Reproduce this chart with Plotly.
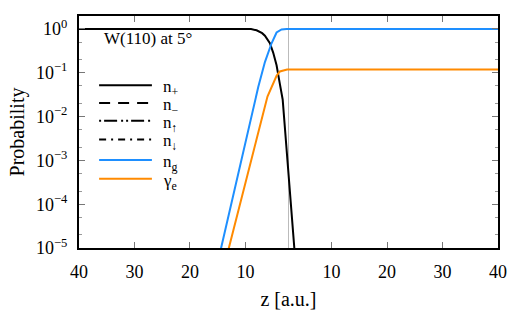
import plotly.graph_objects as go

# path coordinate: incoming |z| 40 -> turning point, then outgoing z -> 40
tick_u = [0, 10, 20, 30, 45.5, 55.5, 65.5, 75.5]
tick_text = ["40", "30", "20", "10", "10", "20", "30", "40"]
u_turn = 37.75

u_plus = [0, 31.0, 32.0, 33.0, 33.5, 34.4, 35.0, 35.6, 36.2, 36.7, 38.8, 39.3]
n_plus = [1.0, 0.99, 0.93, 0.80, 0.70, 0.47, 0.285, 0.148, 0.055, 0.0245, 1e-5, 1.6e-6]

u_zero = [0, 75.5]
n_minus = [0, 0]
n_up = [0, 0]
n_down = [0, 0]

u_g = [24.7, 25.6, 32.0, 32.3, 33.5, 34.7, 35.6, 36.5, 37.4, 75.5]
n_g = [3.2e-6, 1e-5, 0.0316, 0.047, 0.175, 0.47, 0.83, 0.975, 1.0, 1.0]

u_e = [26.1, 27.0, 33.96, 35.0, 35.6, 36.2, 37.0, 37.5, 75.5]
gamma_e = [3.5e-6, 1e-5, 0.0287, 0.06, 0.085, 0.107, 0.115, 0.119, 0.119]

y_tickvals = [1e-5, 1e-4, 1e-3, 1e-2, 1e-1, 1]
y_ticktext = ["10<sup>−5</sup>", "10<sup>−4</sup>", "10<sup>−3</sup>",
              "10<sup>−2</sup>", "10<sup>−1</sup>", "10<sup>0</sup>"]

names = ["n<sub>+</sub>", "n<sub>−</sub>", "n<sub>↑</sub>", "n<sub>↓</sub>",
         "n<sub>g</sub>", "γ<sub>e</sub>"]
colors = ["black", "black", "black", "black", "#1e8fff", "#ff8a00"]
dashes = ["solid", "11px,8px", "2px,3px,13px,4px,2px,3px", "7px,5px,2px,5px",
          "solid", "solid"]
xs = [u_plus, u_zero, u_zero, u_zero, u_g, u_e]
ys = [n_plus, n_minus, n_up, n_down, n_g, gamma_e]

FONT = "Liberation Serif"

fig = go.Figure()
for x, y, nm, c, d in zip(xs, ys, names, colors, dashes):
    fig.add_trace(go.Scatter(x=x, y=y, mode="lines", name=nm, showlegend=False,
                             line=dict(color=c, width=2, dash=d)))

fig.add_vline(x=u_turn, line=dict(color="#bbbbbb", width=1), layer="below")

# legend drawn as keys + labels inside the plot area
leg_y = [0.702, 0.625, 0.548, 0.468, 0.379, 0.298]
for yy, nm, c, d in zip(leg_y, names, colors, dashes):
    fig.add_shape(type="line", xref="paper", yref="paper", x0=0.048, x1=0.174,
                  y0=yy, y1=yy, line=dict(color=c, width=2, dash=d))
    fig.add_annotation(text=nm, xref="paper", yref="paper", x=0.196, y=yy,
                       xanchor="left", yanchor="middle", yshift=-3, showarrow=False,
                       font=dict(size=17, color="black", family=FONT))

fig.add_annotation(text="W(110) at 5°", xref="paper", yref="paper",
                   x=0.054, y=0.903, xanchor="left", yanchor="middle",
                   showarrow=False, font=dict(size=17, color="black", family=FONT))

fig.update_layout(
    width=525, height=319,
    margin=dict(l=79, r=27, t=16, b=55),
    paper_bgcolor="white", plot_bgcolor="white",
    font=dict(family=FONT, size=18, color="black"),
    showlegend=False,
    xaxis=dict(range=[0, 75.5], tickvals=tick_u, ticktext=tick_text,
               ticks="inside", ticklen=6, tickcolor="#777", showgrid=False,
               zeroline=False, showline=True, linecolor="black", linewidth=2,
               mirror="allticks", title=dict(text="z [a.u.]", font=dict(size=20, family=FONT), standoff=11),
               tickfont=dict(size=18, family=FONT), ticklabelstandoff=6),
    yaxis=dict(type="log", range=[-5, 0.295], tickvals=y_tickvals, ticktext=y_ticktext,
               ticks="inside", ticklen=6, tickcolor="#777", showgrid=False,
               zeroline=False, showline=True, linecolor="black", linewidth=2,
               mirror="allticks", title=dict(text="Probability", font=dict(size=20, family=FONT), standoff=6),
               tickfont=dict(size=18, family=FONT), ticklabelstandoff=6,
               minor=dict(ticks="inside", ticklen=3, tickcolor="#999", showgrid=False)),
)

fig.write_html("out.html")
